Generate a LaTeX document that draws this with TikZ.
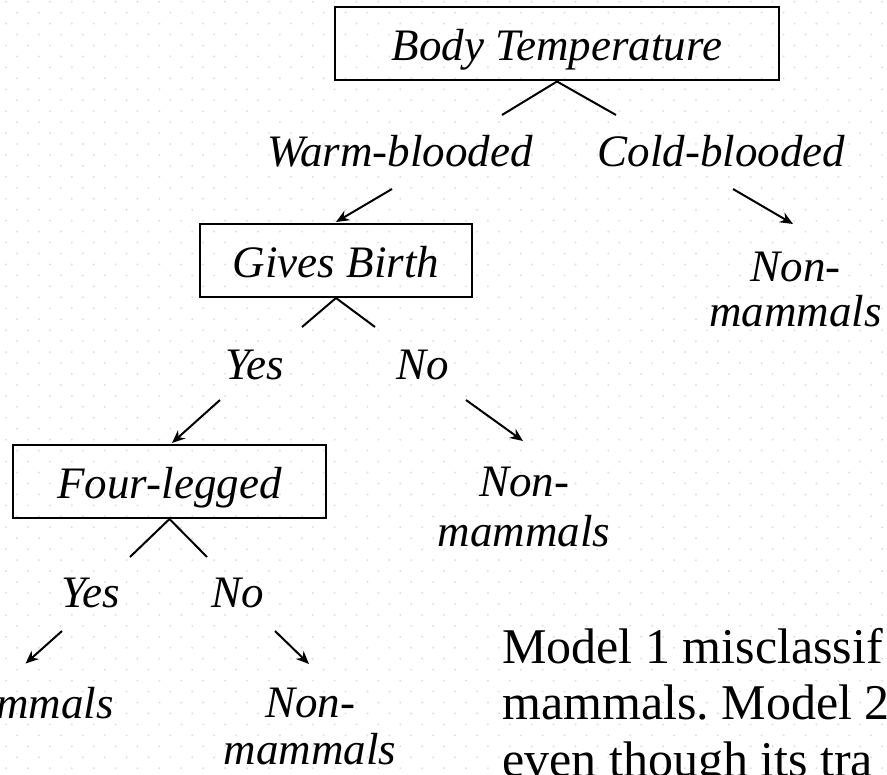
\documentclass[tikz,border=0pt]{standalone}
\usepackage{fontspec}
\setmainfont{Liberation Serif}
\usepackage{tikz}
\usetikzlibrary{arrows.meta}
\definecolor{punto}{RGB}{224,224,224}
\tikzstyle{caja}=[draw,line width=2pt,inner sep=0pt,minimum height=73pt,text height=38pt,text depth=4pt,font=\fontsize{45}{50}\selectfont\itshape]
\tikzstyle{texto}=[inner sep=0pt,font=\fontsize{45}{50}\selectfont\itshape]
\tikzstyle{rama}=[line width=2pt]
\tikzstyle{flecha}=[line width=2pt,-{Stealth[length=13pt,width=11pt]}]

\begin{document}
\frenchspacing
\begin{tikzpicture}[x=1pt,y=-1pt]
    \useasboundingbox (0,0) rectangle (887,775);
    \clip (0,0) rectangle (887,775);
    \fill [white] (0,0) rectangle (887,775);
    \foreach \r in {0,...,71}
        \foreach \c in {0,...,40}
            \fill [punto] ({6.1+21.9*\c+10.95*mod(\r,2)},{1.7+10.95*\r}) circle [radius=1.1pt];

    \node [caja,minimum width=444pt] (bodytemp) at (557,44) {Body Temperature};
    \node [caja,minimum width=272pt] (givesbirth) at (336,260.5) {Gives Birth};
    \node [caja,minimum width=313pt] (fourleg) at (169.5,481.5) {Four-legged};

    \node [texto,anchor=base] (warm) at (400,167) {Warm-blooded};
    \node [texto,anchor=base] (cold) at (721.5,167) {Cold-blooded};
    \node [texto,anchor=base] (gbyes) at (255,380) {Yes};
    \node [texto,anchor=base] (gbno) at (423,380) {No};
    \node [texto,anchor=base] (flyes) at (90.5,608) {Yes};
    \node [texto,anchor=base] (flno) at (237.5,608) {No};
    \node [texto,anchor=base east] (mammals) at (114,718) {mmals};
    \node [texto,anchor=north,align=center] (nonmam1) at (795.5,252) {Non-\\[-5pt]mammals};
    \node [texto,anchor=north,align=center] (nonmam2) at (524,467) {Non-\\mammals};
    \node [texto,anchor=north,align=center] (nonmam3) at (310,688) {Non-\\[-3pt]mammals};

    \node [inner sep=0pt,anchor=north west,align=left,font=\fontsize{50}{56.5}\selectfont] (nota) at (502,628)
        {Model 1 misclassif\\mammals. Model 2\\even though its tra};

    \coordinate (bt-l) at (502,115);
    \coordinate (bt-r) at (616,115);
    \coordinate (gb-l) at (302,327);
    \coordinate (gb-r) at (375,327);
    \coordinate (fl-l) at (130,557);
    \coordinate (fl-r) at (207,557);
    \draw [rama] (bt-l) -- (bodytemp.south) -- (bt-r);
    \draw [rama] (gb-l) -- (givesbirth.south) -- (gb-r);
    \draw [rama] (fl-l) -- (fourleg.south) -- (fl-r);

    \draw [flecha] ([xshift=-8pt,yshift=-22pt]warm.base) -- ([yshift=1pt]givesbirth.north);
    \draw [flecha] ([xshift=11.5pt,yshift=-22pt]cold.base) -- ([xshift=-2.5pt,yshift=28pt]nonmam1.north);
    \draw [flecha] ([xshift=-35pt,yshift=-20pt]gbyes.base) -- ([xshift=2.5pt,yshift=1pt]fourleg.north);
    \draw [flecha] ([xshift=43pt,yshift=-20pt]gbno.base) -- ([xshift=-1pt,yshift=26pt]nonmam2.north);
    \draw [flecha] ([xshift=-28.5pt,yshift=-23pt]flyes.base) -- ([xshift=-29.5pt,yshift=23pt]mammals.north);
    \draw [flecha] ([xshift=37.5pt,yshift=-23pt]flno.base) -- ([xshift=-1pt,yshift=24pt]nonmam3.north);
\end{tikzpicture}
\end{document}
